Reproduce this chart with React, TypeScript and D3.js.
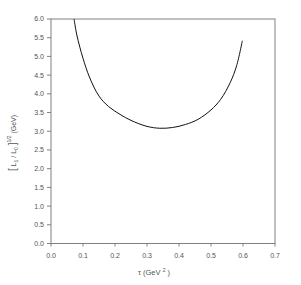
import React from "react";
import * as d3 from "d3";

const tauValues = [0.072, 0.08, 0.09, 0.1, 0.12, 0.15, 0.18, 0.216, 0.25, 0.3, 0.34, 0.38, 0.42, 0.46, 0.5, 0.53, 0.56, 0.58, 0.598];
const massValues = [6.0, 5.6, 5.25, 4.95, 4.45, 3.94, 3.66, 3.45, 3.29, 3.13, 3.08, 3.1, 3.18, 3.32, 3.57, 3.85, 4.3, 4.75, 5.42];
const xTicks = [0.0, 0.1, 0.2, 0.3, 0.4, 0.5, 0.6, 0.7];
const yTicks = [0.0, 0.5, 1.0, 1.5, 2.0, 2.5, 3.0, 3.5, 4.0, 4.5, 5.0, 5.5, 6.0];

export default function App() {
  const W = 301, H = 285;
  const left = 51, right = 275, top = 19, bottom = 243.5;
  const x = d3.scaleLinear().domain([0, 0.7]).range([left, right]);
  const y = d3.scaleLinear().domain([0, 6]).range([bottom, top]);
  const pts = tauValues.map((t, i) => [t, massValues[i]] as [number, number]);
  const line = d3.line<[number, number]>().x(d => x(d[0])).y(d => y(d[1])).curve(d3.curveCatmullRom.alpha(0.5));
  const axisColor = "#808080";
  const textColor = "#555";
  const font = "'Liberation Sans', Arial, sans-serif";
  return (
    <div style={{ position: "absolute", left: 0, top: 0 }}>
      <svg width={W} height={H} style={{ display: "block", background: "#fff" }}>
        <rect x={left} y={top} width={right - left} height={bottom - top} fill="none" stroke={axisColor} strokeWidth={1} />
        {yTicks.map(t => (
          <g key={"y" + t}>
            <line x1={left - 4} x2={left} y1={y(t)} y2={y(t)} stroke={axisColor} strokeWidth={1} />
            <text x={left - 7} y={y(t)} dy="0.35em" textAnchor="end" fontSize={7} fill={textColor} fontFamily={font}>{t.toFixed(1)}</text>
          </g>
        ))}
        {xTicks.map(t => (
          <g key={"x" + t}>
            <line x1={x(t)} x2={x(t)} y1={bottom} y2={bottom + 3} stroke={axisColor} strokeWidth={1} />
            <text x={x(t)} y={bottom + 14} textAnchor="middle" fontSize={7} fill={textColor} fontFamily={font}>{t.toFixed(1)}</text>
          </g>
        ))}
        <path d={line(pts) || ""} fill="none" stroke="#111" strokeWidth={1} />
        <text x={154} y={275} textAnchor="middle" fontSize={7.5} fill={textColor} fontFamily={font}>
          τ  (GeV <tspan fontSize={5} dy={-3}>2</tspan><tspan dy={3}> )</tspan>
        </text>
        <text transform={`translate(16,143) rotate(-90)`} textAnchor="middle" fontSize={7} fill={textColor} fontFamily={font}>
          <tspan fontSize={10}>[</tspan> L<tspan fontSize={5} dy={2}>1</tspan><tspan dy={-2}> / L</tspan><tspan fontSize={5} dy={2}>0</tspan><tspan dy={-2}> </tspan><tspan fontSize={10}>]</tspan><tspan fontSize={5} dy={-5}>1/2</tspan><tspan dy={5}>    (GeV)</tspan>
        </text>
      </svg>
    </div>
  );
}
